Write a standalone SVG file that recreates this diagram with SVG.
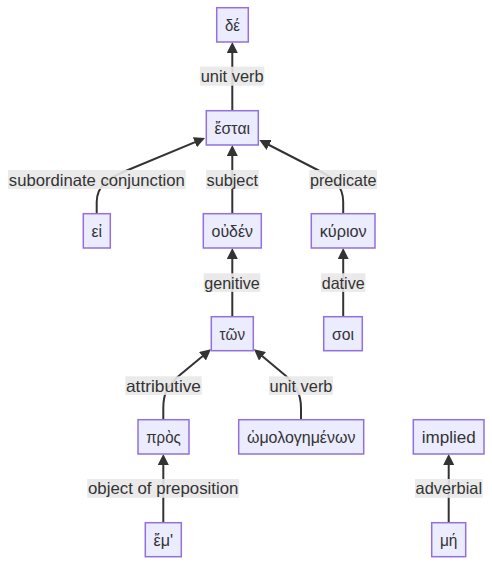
<svg xmlns="http://www.w3.org/2000/svg" width="492" height="565" viewBox="0 0 492 565">
<defs>
<marker id="arrow" viewBox="0 0 10 10" refX="5" refY="5" markerUnits="userSpaceOnUse" markerWidth="11" markerHeight="11" orient="auto">
<path d="M0,0 L10,5 L0,10 z" fill="#333333"/>
</marker>
<style>
.node rect{fill:#ECECFF;stroke:#9370DB;stroke-width:1.5;}
text{font-family:"Liberation Sans","DejaVu Sans",Arial,sans-serif;font-size:16.5px;fill:#333333;text-anchor:middle;dominant-baseline:central;}
.edge{fill:none;stroke:#333333;stroke-width:2;marker-end:url(#arrow);}
.lbl rect{fill:#e8e8e8;opacity:0.9;}
</style>
</defs>
<rect width="492" height="565" fill="#ffffff"/>
<g id="connectors">
<path class="edge" d="M232.3,111 L232.3,47.5"/>
<path class="edge" d="M96.7,214 L96.7,202 C96.7,186 108,178 128,170 L199.9,140.1"/>
<path class="edge" d="M232.3,214 L232.3,150.5"/>
<path class="edge" d="M343.2,214 L343.2,202 C343.2,186 334,178 316.7,169.5 L264.2,142.5"/>
<path class="edge" d="M232.3,317 L232.3,253.5"/>
<path class="edge" d="M343.2,317 L343.2,253.5"/>
<path class="edge" d="M163.3,420 L163.3,408 C163.3,392 168.5,385 179,375.7 L206.7,352.8"/>
<path class="edge" d="M301,420 L301,408 C301,392 294.5,384.5 285.7,375.7 L258.2,352.8"/>
<path class="edge" d="M163.3,523 L163.3,459.5"/>
<path class="edge" d="M448.7,523 L448.7,459.5"/>
<g class="lbl">
<rect x="200" y="66.7" width="64.3" height="19"/><text x="232.2" y="76.2" textLength="63" lengthAdjust="spacingAndGlyphs">unit verb</text>
<rect x="8" y="170" width="177.7" height="19"/><text x="96.8" y="179.5" textLength="176" lengthAdjust="spacingAndGlyphs">subordinate conjunction</text>
<rect x="206" y="170" width="52.7" height="19"/><text x="232.3" y="179.5" textLength="51.5" lengthAdjust="spacingAndGlyphs">subject</text>
<rect x="309.3" y="170" width="67.7" height="19"/><text x="343.2" y="179.5" textLength="66.5" lengthAdjust="spacingAndGlyphs">predicate</text>
<rect x="203.7" y="273.3" width="56.6" height="18.6"/><text x="232" y="282.6" textLength="55.5" lengthAdjust="spacingAndGlyphs">genitive</text>
<rect x="321" y="273.3" width="44.3" height="18.6"/><text x="343.2" y="282.6" textLength="43" lengthAdjust="spacingAndGlyphs">dative</text>
<rect x="125.3" y="376.3" width="76.4" height="18.6"/><text x="163.5" y="385.6" textLength="75" lengthAdjust="spacingAndGlyphs">attributive</text>
<rect x="269" y="376.3" width="64" height="18.6"/><text x="301" y="385.6" textLength="63" lengthAdjust="spacingAndGlyphs">unit verb</text>
<rect x="87.3" y="479" width="151.7" height="18.8"/><text x="163.2" y="488.4" textLength="150.5" lengthAdjust="spacingAndGlyphs">object of preposition</text>
<rect x="415" y="479" width="67.7" height="18.8"/><text x="448.8" y="488.4" textLength="66.5" lengthAdjust="spacingAndGlyphs">adverbial</text>
</g>
</g>
<g id="n_de" class="node"><rect x="216.7" y="7.7" width="31.6" height="34.3"/><text x="232.5" y="25" textLength="15" lengthAdjust="spacingAndGlyphs">δέ</text></g>
<g id="n_estai" class="node"><rect x="206.3" y="110.7" width="52" height="34.3"/><text x="232.3" y="128" textLength="35.5" lengthAdjust="spacingAndGlyphs">ἔσται</text></g>
<g id="n_ei" class="node"><rect x="83.3" y="213.7" width="27" height="34.3"/><text x="96.8" y="231" textLength="10.5" lengthAdjust="spacingAndGlyphs">εἰ</text></g>
<g id="n_ouden" class="node"><rect x="203.3" y="213.7" width="58" height="34.3"/><text x="232.3" y="231" textLength="41.5" lengthAdjust="spacingAndGlyphs">οὐδέν</text></g>
<g id="n_kyrion" class="node"><rect x="311.3" y="213.7" width="63.7" height="34.3"/><text x="343.2" y="231" textLength="47" lengthAdjust="spacingAndGlyphs">κύριον</text></g>
<g id="n_ton" class="node"><rect x="211.3" y="316.7" width="42" height="34"/><text x="232.3" y="334" textLength="25.5" lengthAdjust="spacingAndGlyphs">τῶν</text></g>
<g id="n_soi" class="node"><rect x="323.7" y="316.7" width="38.6" height="34"/><text x="343" y="334" textLength="22" lengthAdjust="spacingAndGlyphs">σοι</text></g>
<g id="n_pros" class="node"><rect x="138" y="419.7" width="51" height="34.3"/><text x="163.5" y="437" textLength="34.5" lengthAdjust="spacingAndGlyphs">πρὸς</text></g>
<g id="n_omologemenon" class="node"><rect x="238.7" y="419.7" width="125" height="34.3"/><text x="301.2" y="437" textLength="108.5" lengthAdjust="spacingAndGlyphs">ὡμολογημένων</text></g>
<g id="n_implied" class="node"><rect x="413.3" y="419.7" width="70.7" height="34.3"/><text x="448.7" y="437" textLength="54" lengthAdjust="spacingAndGlyphs">implied</text></g>
<g id="n_em" class="node"><rect x="145.3" y="522.7" width="36" height="34"/><text x="163.3" y="540" textLength="19.5" lengthAdjust="spacingAndGlyphs">ἔμ'</text></g>
<g id="n_me" class="node"><rect x="431.7" y="522.7" width="34" height="34"/><text x="448.7" y="540" textLength="17.5" lengthAdjust="spacingAndGlyphs">μή</text></g>
</svg>
